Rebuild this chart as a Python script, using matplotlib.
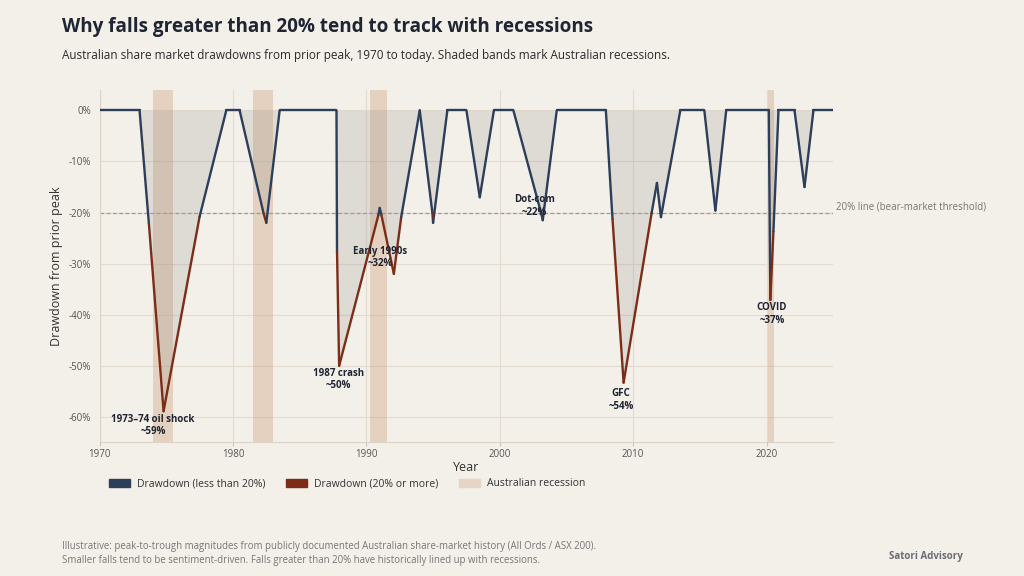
import matplotlib
matplotlib.use("Agg")
import matplotlib.pyplot as plt
import matplotlib.transforms as mtransforms
from matplotlib.collections import LineCollection
from matplotlib.patches import Patch
import numpy as np

plt.rcParams["font.family"] = ["Open Sans", "DejaVu Sans"]

# drawdown path vertices (year, % from prior peak)
years = [1970.0, 1973.0, 1973.7, 1974.8, 1977.5, 1979.5,
         1980.5, 1982.3, 1982.5, 1983.5,
         1987.76, 1987.8, 1987.96, 1990.9, 1991.0, 1991.12, 1992.06, 1992.61, 1994.0,
         1994.95, 1995.0, 1996.07,
         1997.5, 1998.5, 1999.56,
         2001.02, 2003.15, 2003.22, 2004.27,
         2007.95, 2008.45, 2009.28, 2011.38, 2011.78, 2012.08, 2013.53,
         2015.33, 2016.16, 2016.97,
         2020.16, 2020.28, 2020.51, 2020.89,
         2022.09, 2022.84, 2023.51, 2025.0]
drawdown = [0, 0, -22.2, -58.9, -20.8, 0,
            0, -20.2, -22.0, 0,
            0, -27.6, -50.0, -20.5, -19.1, -20.4, -32.0, -20.9, 0,
            -20.1, -22.0, 0,
            0, -17.0, 0,
            0, -20.6, -21.5, 0,
            0, -21.3, -53.3, -20.1, -14.2, -20.9, 0,
            0, -19.6, 0,
            0, -37.1, -23.7, 0,
            0, -15.0, 0, 0]

recession_start = [1974.0, 1981.5, 1990.25, 2020.13]
recession_end = [1975.5, 1983.0, 1991.57, 2020.59]

event_labels = ["1973\u201374 oil shock\n~59%", "1987 crash\n~50%", "Early 1990s\n~32%",
                "Dot-com\n~22%", "GFC\n~54%", "COVID\n~37%"]
event_x = [1974.0, 1987.93, 1991.06, 2002.57, 2009.08, 2020.39]
event_y = [-61.7, -52.7, -28.8, -18.75, -56.7, -39.9]

threshold = -20

BG = "#f3efe9"
NAVY = "#2c3e5a"
RUST = "#7b2d17"
TAN = "#c99a74"
DARK = "#1f2533"

fig = plt.figure(figsize=(10.24, 5.76), dpi=100, facecolor=BG)
ax = fig.add_axes([0.0972, 0.232, 0.7166, 0.6118])
ax.set_facecolor(BG)

for s, e in zip(recession_start, recession_end):
    ax.axvspan(s, e, color=TAN, alpha=0.35, lw=0, zorder=1)

ax.fill_between(years, drawdown, 0, color="#8c8884", alpha=0.2, lw=0, zorder=2)
ax.axhline(threshold, color="#a09a94", lw=0.9, ls=(0, (3, 2)), zorder=2)

pts = np.column_stack([years, drawdown])
segs = np.stack([pts[:-1], pts[1:]], axis=1)
dd = np.array(drawdown)
deep = (dd[:-1] <= threshold) & (dd[1:] <= threshold)
colors = [RUST if d else NAVY for d in deep]
lc = LineCollection(segs, colors=colors, linewidths=1.7, capstyle="round",
                    joinstyle="round", zorder=3)
ax.add_collection(lc)

for txt, x, y in zip(event_labels, event_x, event_y):
    ax.text(x, y, txt, ha="center", va="center", fontsize=7, fontweight="bold",
            color=DARK, linespacing=1.2, zorder=4)

trans = mtransforms.blended_transform_factory(ax.transAxes, ax.transData)
ax.text(1.004, threshold + 1.0, "20% line (bear-market threshold)", transform=trans,
        ha="left", va="center", fontsize=7, color="#7a7570")

ax.set_xlim(1970, 2025)
ax.set_ylim(-65, 4)
ax.set_xticks(range(1970, 2021, 10))
ax.set_yticks(range(0, -61, -10))
ax.set_yticklabels([f"{v}%" for v in range(0, -61, -10)])
ax.tick_params(axis="both", labelsize=7, labelcolor="#555555", colors="#cfc6bb")
ax.tick_params(axis="y", length=0, pad=6)
ax.tick_params(axis="x", length=3, pad=1.5)
ax.grid(True, color="#e4dbd0", lw=0.8, zorder=0)
ax.set_axisbelow(True)
for side in ["top", "right"]:
    ax.spines[side].set_visible(False)
for side in ["left", "bottom"]:
    ax.spines[side].set_color("#dcd2c6")

ax.set_xlabel("Year", fontsize=9, color="#333333", labelpad=1)
ax.set_ylabel("Drawdown from prior peak", fontsize=9, color="#333333", labelpad=4)

handles = [Patch(color=NAVY, label="Drawdown (less than 20%)"),
           Patch(color=RUST, label="Drawdown (20% or more)"),
           Patch(color="#e6d4c4", label="Australian recession")]
fig.legend(handles=handles, loc="center left", bbox_to_anchor=(0.097, 1 - 484 / 576),
           ncol=3, frameon=False, fontsize=7.5, handlelength=2.0, handleheight=0.8,
           handletextpad=0.7, columnspacing=2.0, labelcolor="#333333")

fig.text(62 / 1024, 1 - 27 / 576, "Why falls greater than 20% tend to track with recessions",
         fontsize=13.6, fontweight="bold", color=DARK, va="center")
fig.text(62 / 1024, 1 - 56 / 576,
         "Australian share market drawdowns from prior peak, 1970 to today. Shaded bands mark Australian recessions.",
         fontsize=8.45, color="#2b2b2b", va="center")
fig.text(62 / 1024, 1 - 546 / 576,
         "Illustrative: peak-to-trough magnitudes from publicly documented Australian share-market history (All Ords / ASX 200).",
         fontsize=6.95, color="#777777", va="center")
fig.text(62 / 1024, 1 - 560 / 576,
         "Smaller falls tend to be sentiment-driven. Falls greater than 20% have historically lined up with recessions.",
         fontsize=6.9, color="#777777", va="center")
fig.text(963 / 1024, 1 - 557 / 576, "Satori Advisory", fontsize=7, fontweight="bold",
         color="#6b6b73", ha="right", va="center")

fig.savefig("out.png", dpi=100, facecolor=BG)
